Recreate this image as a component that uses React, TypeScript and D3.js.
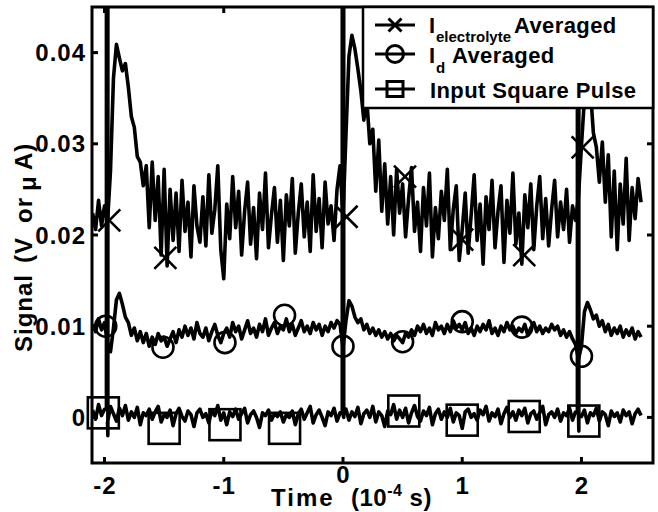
import React from "react";
import * as d3 from "d3";

// sample grid (time in 1e-4 s)
const T_START = -2.1;
const T_STEP = 0.025;

// traces, values in units of 1e-3 (V or µA)
const electrolyte = [
  22.4, 20.6, 23.8, 21.0, 23.2, 21.4, 27.0, 37.2, 40.9, 39.4,
  38.0, 38.8, 36.2, 33.0, 31.8, 28.6, 28.0, 25.4, 27.6, 20.8,
  28.0, 21.6, 26.4, 17.8, 27.2, 16.6, 25.0, 19.4, 24.6, 18.2,
  26.0, 20.4, 23.6, 17.6, 25.4, 21.0, 19.2, 24.2, 18.8, 26.6,
  20.2, 22.8, 27.6, 18.4, 15.2, 23.4, 19.6, 26.4, 20.8, 24.8,
  17.8, 22.6, 25.8, 19.0, 23.0, 17.4, 24.6, 20.6, 26.8, 18.6,
  22.2, 25.2, 19.2, 23.8, 17.2, 24.4, 21.0, 26.2, 18.0, 22.4,
  25.6, 19.8, 23.6, 18.2, 26.6, 20.4, 24.0, 18.6, 25.8, 21.2,
  23.2, 19.4, 25.0, 27.6, 22.0, 31.0, 39.6, 41.9, 40.4, 38.2,
  35.8, 32.6, 34.8, 30.0, 31.6, 24.8, 30.4, 22.6, 27.8, 21.2,
  26.4, 20.0, 27.2, 22.4, 25.6, 19.8, 24.0, 27.4, 20.4, 23.6,
  18.2, 25.2, 21.0, 26.8, 17.6, 23.0, 19.6, 24.8, 21.6, 27.2,
  18.4, 22.8, 25.4, 17.2, 20.6, 24.6, 18.0, 22.2, 26.6, 19.4,
  23.4, 16.8, 24.2, 20.6, 26.0, 18.6, 22.6, 25.4, 17.0, 23.8,
  20.2, 26.8, 19.0, 22.4, 16.8, 24.4, 20.8, 25.6, 18.4, 23.2,
  26.4, 19.6, 24.0, 18.8, 22.8, 26.0, 19.8, 23.6, 20.6, 25.0,
  19.2, 23.2, 21.6, 24.2, 29.8, 35.0, 38.4, 36.0, 31.2, 29.6,
  25.8, 30.2, 23.6, 28.8, 19.8, 27.0, 18.4, 25.6, 21.2, 28.4,
  19.4, 25.2, 21.8, 26.2, 23.6,
];

const idTrace = [
  10.2, 9.4, 10.8, 9.6, 10.4,
  8.2, 7.2, 9.8, 12.9, 13.6, 12.4, 11.0, 10.4, 9.0, 9.8, 8.4, 9.4, 8.2, 9.2, 7.8, 8.8,
  8.0, 9.2, 8.4, 8.8, 7.8, 8.6, 9.4, 8.2, 9.6, 8.8,
  10.0, 9.0, 9.8, 8.6, 10.4, 9.2, 8.8, 9.8, 8.4, 9.4,
  10.2, 9.0, 8.2, 9.2, 9.8, 8.8, 10.4, 9.4, 10.0, 8.6,
  9.6, 10.6, 9.2, 9.8, 8.8, 10.2, 9.4, 10.8, 9.0, 9.8,
  10.4, 9.2, 10.0, 9.6, 10.8, 9.4, 10.2, 9.0, 9.8, 10.6,
  9.4, 10.0, 9.2, 10.4, 9.6, 10.2, 9.0, 10.0, 9.4, 10.4,
  9.8, 10.6, 10.2, 7.6, 10.6, 12.8, 12.2, 11.0, 10.4, 10.8,
  9.6, 10.2, 9.2, 9.8, 9.0, 9.6, 8.8, 9.4, 8.6, 9.2,
  8.4, 9.0, 8.6, 8.2, 9.2, 8.8, 9.6, 9.0, 10.0, 9.4,
  10.2, 9.2, 9.8, 9.0, 10.4, 9.6, 10.0, 9.2, 10.2, 9.4,
  10.6, 9.8, 10.2, 9.6, 10.4, 9.2, 9.8, 9.0, 10.0, 9.4,
  10.2, 9.6, 10.6, 9.2, 9.8, 9.0, 10.0, 9.4, 10.4, 9.6,
  10.0, 9.2, 9.8, 9.4, 10.2, 9.0, 9.8, 10.4, 9.4, 10.0,
  9.2, 9.8, 9.4, 10.2, 9.6, 10.0, 9.0, 9.6, 8.8, 9.4,
  8.6, 8.0, 6.4, 7.8, 11.6, 12.6, 11.8, 10.8, 11.2, 10.0,
  10.6, 9.4, 10.2, 9.0, 9.8, 9.2, 10.0, 8.8, 9.6, 9.0,
  9.8, 8.6, 9.4, 8.8,
];

const pulseBase = [
  0.8, -0.2, 1.4, 0.2, 0.9, -0.6, 1.2, 0.4, -0.4, 1.0,
  0.2, 1.3, -0.3, 0.6, 0.0, 1.1, -0.8, 0.5, 0.2, 0.9,
  -0.2, 0.6, 1.2, -0.5, 0.3, 0.0, 0.8, -0.9, 0.4, 1.0,
  0.1, -0.4, 0.7, 0.3, -1.0, 0.5, 0.9, 0.0, 0.4, -0.6,
  0.8, 0.2, 1.3, -0.3, 0.5, -0.8, 0.6, 0.1, 0.9, -0.2,
  0.4, 1.0, -0.6, 0.3, 0.7, 0.0, -1.1, 0.5, 0.2, 0.8,
  -0.3, 0.4, 0.1, 0.6, -0.5, 0.3, 0.0, 0.7, -0.8, 0.4,
  0.9, -0.2, 0.5, 1.2, -0.6, 0.3, 0.8, 0.0, -0.9, 0.6,
  0.2, 1.0, -0.4, 0.5, 0.3, 0.9, -0.3, 0.6, 0.1, 1.1,
  -0.7, 0.4, 0.8, 0.0, 1.2, -0.5, 0.6, 0.2, -1.0, 0.7,
  0.3, 1.4, -0.2, 0.8, 0.0, 1.0, -0.6, 0.5, 1.3, 0.1,
  -0.4, 0.7, 0.2, 1.1, -0.8, 0.4, 0.9, -0.2, 0.6, 0.0,
  1.0, -0.5, 0.5, 0.2, -1.2, 0.6, 0.9, 0.0, 0.4, -0.3,
  0.8, 0.3, 1.2, -0.4, 0.5, 0.1, 0.9, -0.7, 0.4, 1.1,
  0.0, 0.6, -0.3, 0.8, 0.2, 1.0, -0.6, 0.4, 0.7, -0.2,
  0.5, 1.2, -0.8, 0.3, 0.6, 0.0, 0.9, -0.4, 0.5, 0.2,
  1.0, -0.3, 0.6, 0.4, 0.1, 0.8, -0.6, 0.5, 0.2, 1.0,
  -0.4, 0.6, 0.3, -0.9, 0.7, 0.1, 0.5, -0.5, 0.8, 0.2,
  0.6, -0.7, 0.4, 0.9, 0.2,
];

// square pulse edges
const pulseStarts = [-1.984, -0.006, 1.966];
const pulseWidth = 0.012;
const pulseHigh = 60;
const pulseLow = [-2.0, 0.0, -1.5];

// sparse markers
const elecMarkT = [-1.96, -1.49, 0.03, 0.52, 1.0, 1.52, 2.01];
const elecMarkV = [21.6, 17.5, 22.0, 26.4, 19.5, 17.8, 29.6];
const idMarkT = [-1.99, -1.51, -0.99, -0.49, 0.0, 0.5, 1.0, 1.5, 2.0];
const idMarkV = [10.0, 7.7, 8.2, 11.2, 7.8, 8.3, 10.5, 9.9, 6.7];
const pulseMarkT = [-2.01, -1.5, -0.99, -0.49, 0.51, 1.0, 1.52, 2.02];
const pulseMarkV = [0.5, -1.2, -0.8, -1.2, 0.7, -0.3, 0.1, -0.4];

const xTicks = [-2, -1, 0, 1, 2];
const yTicks = [0, 0.01, 0.02, 0.03, 0.04];
const yTickLabels = ["0", "0.01", "0.02", "0.03", "0.04"];

const W = 658;
const H = 512;
const M = { left: 92, right: 653, top: 7, bottom: 463 };
const FONT = "'Liberation Sans', Arial, Helvetica, sans-serif";

export default function App() {
  const x = d3.scaleLinear().domain([-2.105, 2.6]).range([M.left, M.right]);
  const y = d3.scaleLinear().domain([-0.005, 0.045]).range([M.bottom, M.top]);

  const tAt = (i: number) => T_START + i * T_STEP;
  const elecPts: [number, number][] = electrolyte.map((v, i) => [tAt(i), v / 1000]);
  const idPts: [number, number][] = idTrace.map((v, i) => [tAt(i), v / 1000]);

  const pulsePts: [number, number][] = [];
  pulseBase.forEach((v, i) => {
    const t = tAt(i);
    pulseStarts.forEach((ps, k) => {
      if (ps < t && ps >= t - T_STEP) {
        const prev = pulseBase[i - 1] ?? v;
        pulsePts.push([ps, prev / 1000]);
        pulsePts.push([ps, pulseHigh / 1000]);
        pulsePts.push([ps + pulseWidth, pulseHigh / 1000]);
        pulsePts.push([ps + pulseWidth, pulseLow[k] / 1000]);
      }
    });
    pulsePts.push([t, v / 1000]);
  });

  const line = d3
    .line<[number, number]>()
    .x((d) => x(d[0]))
    .y((d) => y(d[1]));

  const lw = 3.6;
  const txt = { fontFamily: FONT, fontWeight: 700, fill: "#000" } as const;
  const axTxt = { ...txt, fontSize: 24, letterSpacing: 1 } as const;
  const lgTxt = { ...txt, fontSize: 22, letterSpacing: 0.4 } as const;

  const cross = (cx: number, cy: number, s: number, key: string | number, sw = 2.6) => (
    <path
      key={key}
      d={`M${cx - s},${cy - s}L${cx + s},${cy + s}M${cx - s},${cy + s}L${cx + s},${cy - s}`}
      stroke="#000"
      strokeWidth={sw}
      fill="none"
    />
  );

  // rotated y-label pieces: [text, start position along the axis (px from top), baseline x]
  const yLabelPieces: [string, number, number][] = [
    ["Signal", 352, 32],
    ["(V", 263, 32],
    ["or", 223, 32],
    ["μ", 191, 36],
    ["A)", 170, 32],
  ];

  return (
    <svg width={W} height={H} style={{ display: "block", position: "absolute", left: 0, top: 0 }}>
      <rect x={0} y={0} width={W} height={H} fill="#fff" />
      <defs>
        <clipPath id="plotclip">
          <rect x={M.left} y={M.top} width={M.right - M.left} height={M.bottom - M.top} />
        </clipPath>
      </defs>

      <g clipPath="url(#plotclip)" fill="none" stroke="#000" strokeWidth={lw} strokeLinejoin="round">
        <path d={line(elecPts) || ""} />
        <path d={line(idPts) || ""} />
        <path d={line(pulsePts) || ""} />
      </g>

      {/* markers */}
      <g>
        {elecMarkT.map((t, i) => cross(x(t), y(elecMarkV[i] / 1000), 11, "e" + i))}
        {idMarkT.map((t, i) => (
          <circle key={"d" + i} cx={x(t)} cy={y(idMarkV[i] / 1000)} r={10.5} fill="none" stroke="#000" strokeWidth={2.6} />
        ))}
        {pulseMarkT.map((t, i) => (
          <rect
            key={"p" + i}
            x={x(t) - 15.5}
            y={y(pulseMarkV[i] / 1000) - 15.5}
            width={31}
            height={31}
            fill="none"
            stroke="#000"
            strokeWidth={2.6}
          />
        ))}
      </g>

      {/* axes box */}
      <rect x={M.left} y={M.top} width={M.right - M.left} height={M.bottom - M.top} fill="none" stroke="#000" strokeWidth={3} />
      {xTicks.map((t) => (
        <g key={"xt" + t}>
          <line x1={x(t)} x2={x(t)} y1={M.bottom} y2={M.bottom - 6} stroke="#000" strokeWidth={3} />
          <line x1={x(t)} x2={x(t)} y1={M.top} y2={M.top + 6} stroke="#000" strokeWidth={3} />
        </g>
      ))}
      {yTicks.map((v) => (
        <g key={"yt" + v}>
          <line x1={M.left} x2={M.left + 6} y1={y(v)} y2={y(v)} stroke="#000" strokeWidth={3} />
          <line x1={M.right} x2={M.right - 6} y1={y(v)} y2={y(v)} stroke="#000" strokeWidth={3} />
        </g>
      ))}

      {/* tick labels */}
      {xTicks.map((t) => (
        <text key={"xl" + t} x={x(t) + 0.5} y={t === 0 ? 483 : 494} textAnchor="middle" {...axTxt}>
          {t}
        </text>
      ))}
      {yTicks.map((v, i) => (
        <text key={"yl" + v} x={86} y={y(v)} dy="0.36em" textAnchor="end" {...axTxt}>
          {yTickLabels[i]}
        </text>
      ))}

      {/* axis labels */}
      <text x={271} y={506} {...axTxt} letterSpacing={2}>
        Time
      </text>
      <text x={351} y={506} {...axTxt} letterSpacing={0.5}>
        (10
        <tspan dy={-10} fontSize={16}>-4</tspan>
        <tspan dy={10}> s)</tspan>
      </text>
      {yLabelPieces.map(([s, pos, bx]) => (
        <text key={s} transform={`translate(${bx},${pos}) rotate(-90)`} {...axTxt}>
          {s}
        </text>
      ))}

      {/* legend */}
      <g>
        <rect x={363} y={7} width={290} height={101} fill="#fff" stroke="#000" strokeWidth={2.5} />
        <line x1={375} x2={415} y1={25} y2={25} stroke="#000" strokeWidth={3} />
        {cross(395, 25, 6.5, "lg1", 3)}
        <line x1={375} x2={415} y1={54} y2={54} stroke="#000" strokeWidth={3} />
        <circle cx={395} cy={54} r={8.5} fill="none" stroke="#000" strokeWidth={3} />
        <line x1={375} x2={415} y1={89} y2={89} stroke="#000" strokeWidth={3} />
        <rect x={387} y={81.5} width={16} height={15} fill="none" stroke="#000" strokeWidth={3} />

        <text x={429} y={33} {...lgTxt}>I</text>
        <text x={436} y={42} {...txt} fontSize={15}>electrolyte</text>
        <text x={514} y={33} {...lgTxt}>Averaged</text>

        <text x={429} y={63} {...lgTxt}>I</text>
        <text x={436} y={73} {...txt} fontSize={15}>d</text>
        <text x={452} y={63} {...lgTxt}>Averaged</text>

        <text x={430} y={98} {...lgTxt}>Input Square Pulse</text>
      </g>
    </svg>
  );
}
